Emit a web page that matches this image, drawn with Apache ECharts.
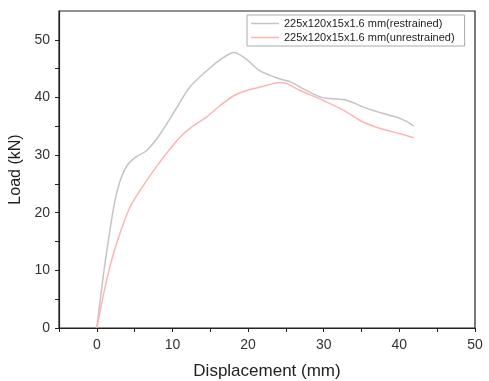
<!DOCTYPE html>
<html>
<head>
<meta charset="utf-8">
<script src="https://cdn.jsdelivr.net/npm/echarts@6/dist/echarts.min.js"></script>
<style>
	html, body { margin: 0; padding: 0; background: #fff; }
	#main { width: 489px; height: 381px; }
</style>
</head>
<body>
<div id="main"></div>
<script>
	// restrained specimen (grey)
	var dispRes = [0, 0.9, 1.8, 2.4, 3.1, 4.0, 5.1, 6.6, 8.4, 10.6, 12.3, 14.5, 16.7, 18.1, 19.8, 21.6, 24.2, 25.6, 27.3, 29.5, 30.8, 33.0, 35.7, 37.9, 39.6, 41.0, 41.9];
	var loadRes = [0, 9.5, 17.5, 22.1, 25.6, 28.2, 29.6, 30.8, 33.7, 38.3, 41.8, 44.6, 46.9, 47.8, 46.6, 44.6, 43.2, 42.7, 41.5, 40.1, 39.8, 39.5, 38.1, 37.2, 36.6, 35.8, 35.0];
	// unrestrained specimen (pink)
	var dispUnres = [0, 1.3, 2.6, 4.4, 6.6, 8.8, 11.0, 12.8, 14.5, 16.3, 18.1, 19.8, 21.6, 23.3, 24.2, 25.1, 26.9, 29.9, 32.6, 34.8, 36.6, 38.3, 40.1, 41.9];
	var loadUnres = [0, 8.3, 14.6, 21.0, 25.6, 29.6, 33.1, 35.1, 36.6, 38.6, 40.3, 41.2, 41.8, 42.4, 42.6, 42.4, 41.2, 39.5, 37.8, 36.0, 35.0, 34.3, 33.7, 33.0];

	var seriesNames = ['225x120x15x1.6 mm(restrained)', '225x120x15x1.6 mm(unrestrained)'];
	var xTicks = [-5, 0, 5, 10, 15, 20, 25, 30, 35, 40, 45, 50];
	var xLabels = [0, 10, 20, 30, 40, 50];
	var yTicks = [0, 5, 10, 15, 20, 25, 30, 35, 40, 45, 50];
	var yLabels = [0, 10, 20, 30, 40, 50];

	function pairs(xs, ys) {
		var out = [];
		for (var i = 0; i < xs.length; i++) out.push([xs[i], ys[i]]);
		return out;
	}

	var font = '"Liberation Sans", Arial, sans-serif';
	var myChart = echarts.init(document.getElementById('main'));
	var option = {
		animation: false,
		grid: {
			left: 59, right: 14, top: 11, bottom: 53,
			outerBoundsMode: 'none',
			containLabel: false,
			show: true, borderColor: '#222', borderWidth: 1.2, backgroundColor: 'transparent'
		},
		legend: {
			orient: 'vertical',
			left: 247, top: 15,
			padding: [3, 10, 3, 4],
			itemGap: 3,
			icon: 'rect',
			itemWidth: 28, itemHeight: 1.5,
			borderColor: '#aaa', borderWidth: 1,
			textStyle: { fontFamily: font, fontSize: 11, color: '#222' },
			data: seriesNames
		},
		xAxis: {
			type: 'value',
			min: -5, max: 50, interval: 5,
			name: 'Displacement (mm)',
			nameLocation: 'middle',
			nameGap: 35,
			nameTextStyle: { fontFamily: font, fontSize: 17, color: '#222' },
			axisLine: { show: true, onZero: false, lineStyle: { color: '#222', width: 1.2 } },
			axisTick: { show: true, length: 4, customValues: xTicks, lineStyle: { color: '#222' } },
			axisLabel: { customValues: xLabels, fontFamily: font, fontSize: 14, color: '#333', margin: 10 },
			splitLine: { show: false }
		},
		yAxis: {
			type: 'value',
			min: 0, max: 55, interval: 5,
			name: 'Load (kN)',
			nameLocation: 'middle',
			nameGap: 32,
			nameTextStyle: { fontFamily: font, fontSize: 16, color: '#222' },
			axisLine: { show: true, onZero: false, lineStyle: { color: '#222', width: 1.2 } },
			axisTick: { show: true, length: 4, customValues: yTicks, lineStyle: { color: '#222' } },
			axisLabel: { customValues: yLabels, fontFamily: font, fontSize: 14, color: '#333', margin: 9 },
			splitLine: { show: false }
		},
		series: [
			{
				name: seriesNames[0],
				type: 'line',
				smooth: 0.3,
				symbol: 'none',
				lineStyle: { color: '#c4c4c4', width: 1.5 },
				itemStyle: { color: '#c4c4c4' },
				data: pairs(dispRes, loadRes)
			},
			{
				name: seriesNames[1],
				type: 'line',
				smooth: 0.3,
				symbol: 'none',
				lineStyle: { color: '#ffb4b4', width: 1.5 },
				itemStyle: { color: '#ffb4b4' },
				data: pairs(dispUnres, loadUnres)
			}
		]
	};
	myChart.setOption(option);
</script>
</body>
</html>
